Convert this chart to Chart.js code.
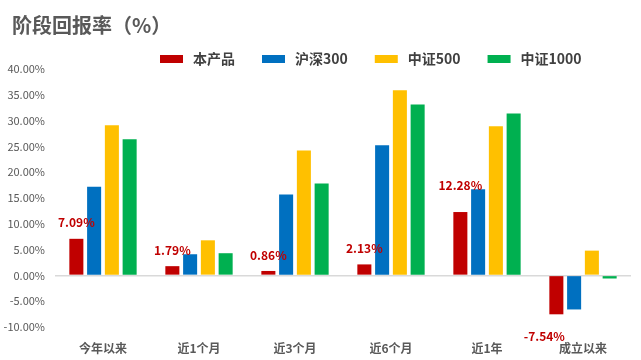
<!DOCTYPE html>
<html>
<head>
<meta charset="utf-8">
<script src="https://cdn.jsdelivr.net/npm/chart.js@4"></script>
<style>
  html, body { margin: 0; padding: 0; background: #fff; }
  #wrap { width: 641px; height: 360px; position: relative; }
</style>
</head>
<body>
<div id="wrap"><canvas id="chart"></canvas></div>
<script>
const FONT = '"Noto Sans CJK SC", "Noto Sans", sans-serif'

const categories = ['今年以来', '近1个月', '近3个月', '近6个月', '近1年', '成立以来']
const product  = [7.09, 1.79, 0.86, 2.13, 12.28, -7.54]
const hs300    = [17.2, 4.1, 15.7, 25.2, 16.7, -6.6]
const zz500    = [29.1, 6.8, 24.2, 35.9, 28.9, 4.8]
const zz1000   = [26.4, 4.3, 17.8, 33.1, 31.4, -0.6]
const seriesNames = ['本产品', '沪深300', '中证500', '中证1000']
const colors = ['#C00000', '#0070C0', '#FFC000', '#00B050']

// extra lift for individual value labels (px)
const labelLift = [0, 0, 0, 0, 11, 0]

const valueLabels = {
  id: 'valueLabels',
  afterDatasetsDraw(chart) {
    const { ctx } = chart
    const meta = chart.getDatasetMeta(0)
    ctx.save()
    ctx.font = 'bold 12px ' + FONT
    ctx.fillStyle = '#C00000'
    ctx.textAlign = 'center'
    ctx.textBaseline = 'middle'
    meta.data.forEach((bar, i) => {
      const v = product[i]
      const txt = v.toFixed(2) + '%'
      if (v >= 0) {
        ctx.fillText(txt, bar.x, bar.y - 16 - labelLift[i])
      } else {
        ctx.fillText(txt, bar.x - 12, bar.y + 22)
      }
    })
    ctx.restore()
  }
}

const header = {
  id: 'header',
  afterDraw(chart) {
    const { ctx } = chart
    ctx.save()
    ctx.font = 'bold 20px ' + FONT
    ctx.fillStyle = '#595959'
    ctx.textBaseline = 'middle'
    ctx.textAlign = 'left'
    ctx.fillText('阶段回报率（%）', 12, 25)

    ctx.font = 'bold 14px ' + FONT
    let x = 160
    const y = 59
    seriesNames.forEach((name, i) => {
      ctx.fillStyle = colors[i]
      ctx.fillRect(x, y - 4, 23, 8)
      ctx.fillStyle = '#404040'
      ctx.fillText(name, x + 33, y)
      x += 33 + ctx.measureText(name).width + 27
    })
    ctx.restore()
  }
}

const series = [product, hs300, zz500, zz1000]

new Chart(document.getElementById('chart'), {
  type: 'bar',
  data: {
    labels: categories,
    datasets: series.map((d, i) => ({
      label: seriesNames[i],
      data: d,
      backgroundColor: colors[i],
      barPercentage: 0.79,
      categoryPercentage: 0.74,
    }))
  },
  plugins: [valueLabels, header],
  options: {
    responsive: true, maintainAspectRatio: false,
    animation: false,
    layout: { padding: { top: 69, right: 10, left: 0, bottom: 0 } },
    plugins: {
      legend: { display: false },
      tooltip: { enabled: false }
    },
    scales: {
      x: {
        grid: { display: false },
        border: { display: false },
        ticks: { color: '#595959', font: { family: FONT, size: 12, weight: 'bold' }, padding: 6 },
        afterFit: s => { s.height = 33 }
      },
      y: {
        min: -10, max: 40,
        border: { display: false },
        grid: {
          drawTicks: false,
          lineWidth: c => (c.tick && c.tick.value === 0 ? 1.5 : 0),
          color: '#D9D9D9'
        },
        ticks: {
          stepSize: 5,
          color: '#595959',
          padding: 10,
          font: { family: FONT, size: 11 },
          callback: v => v.toFixed(2) + '%'
        },
        afterFit: s => { s.width = 55 }
      }
    }
  }
})
</script>
</body>
</html>
